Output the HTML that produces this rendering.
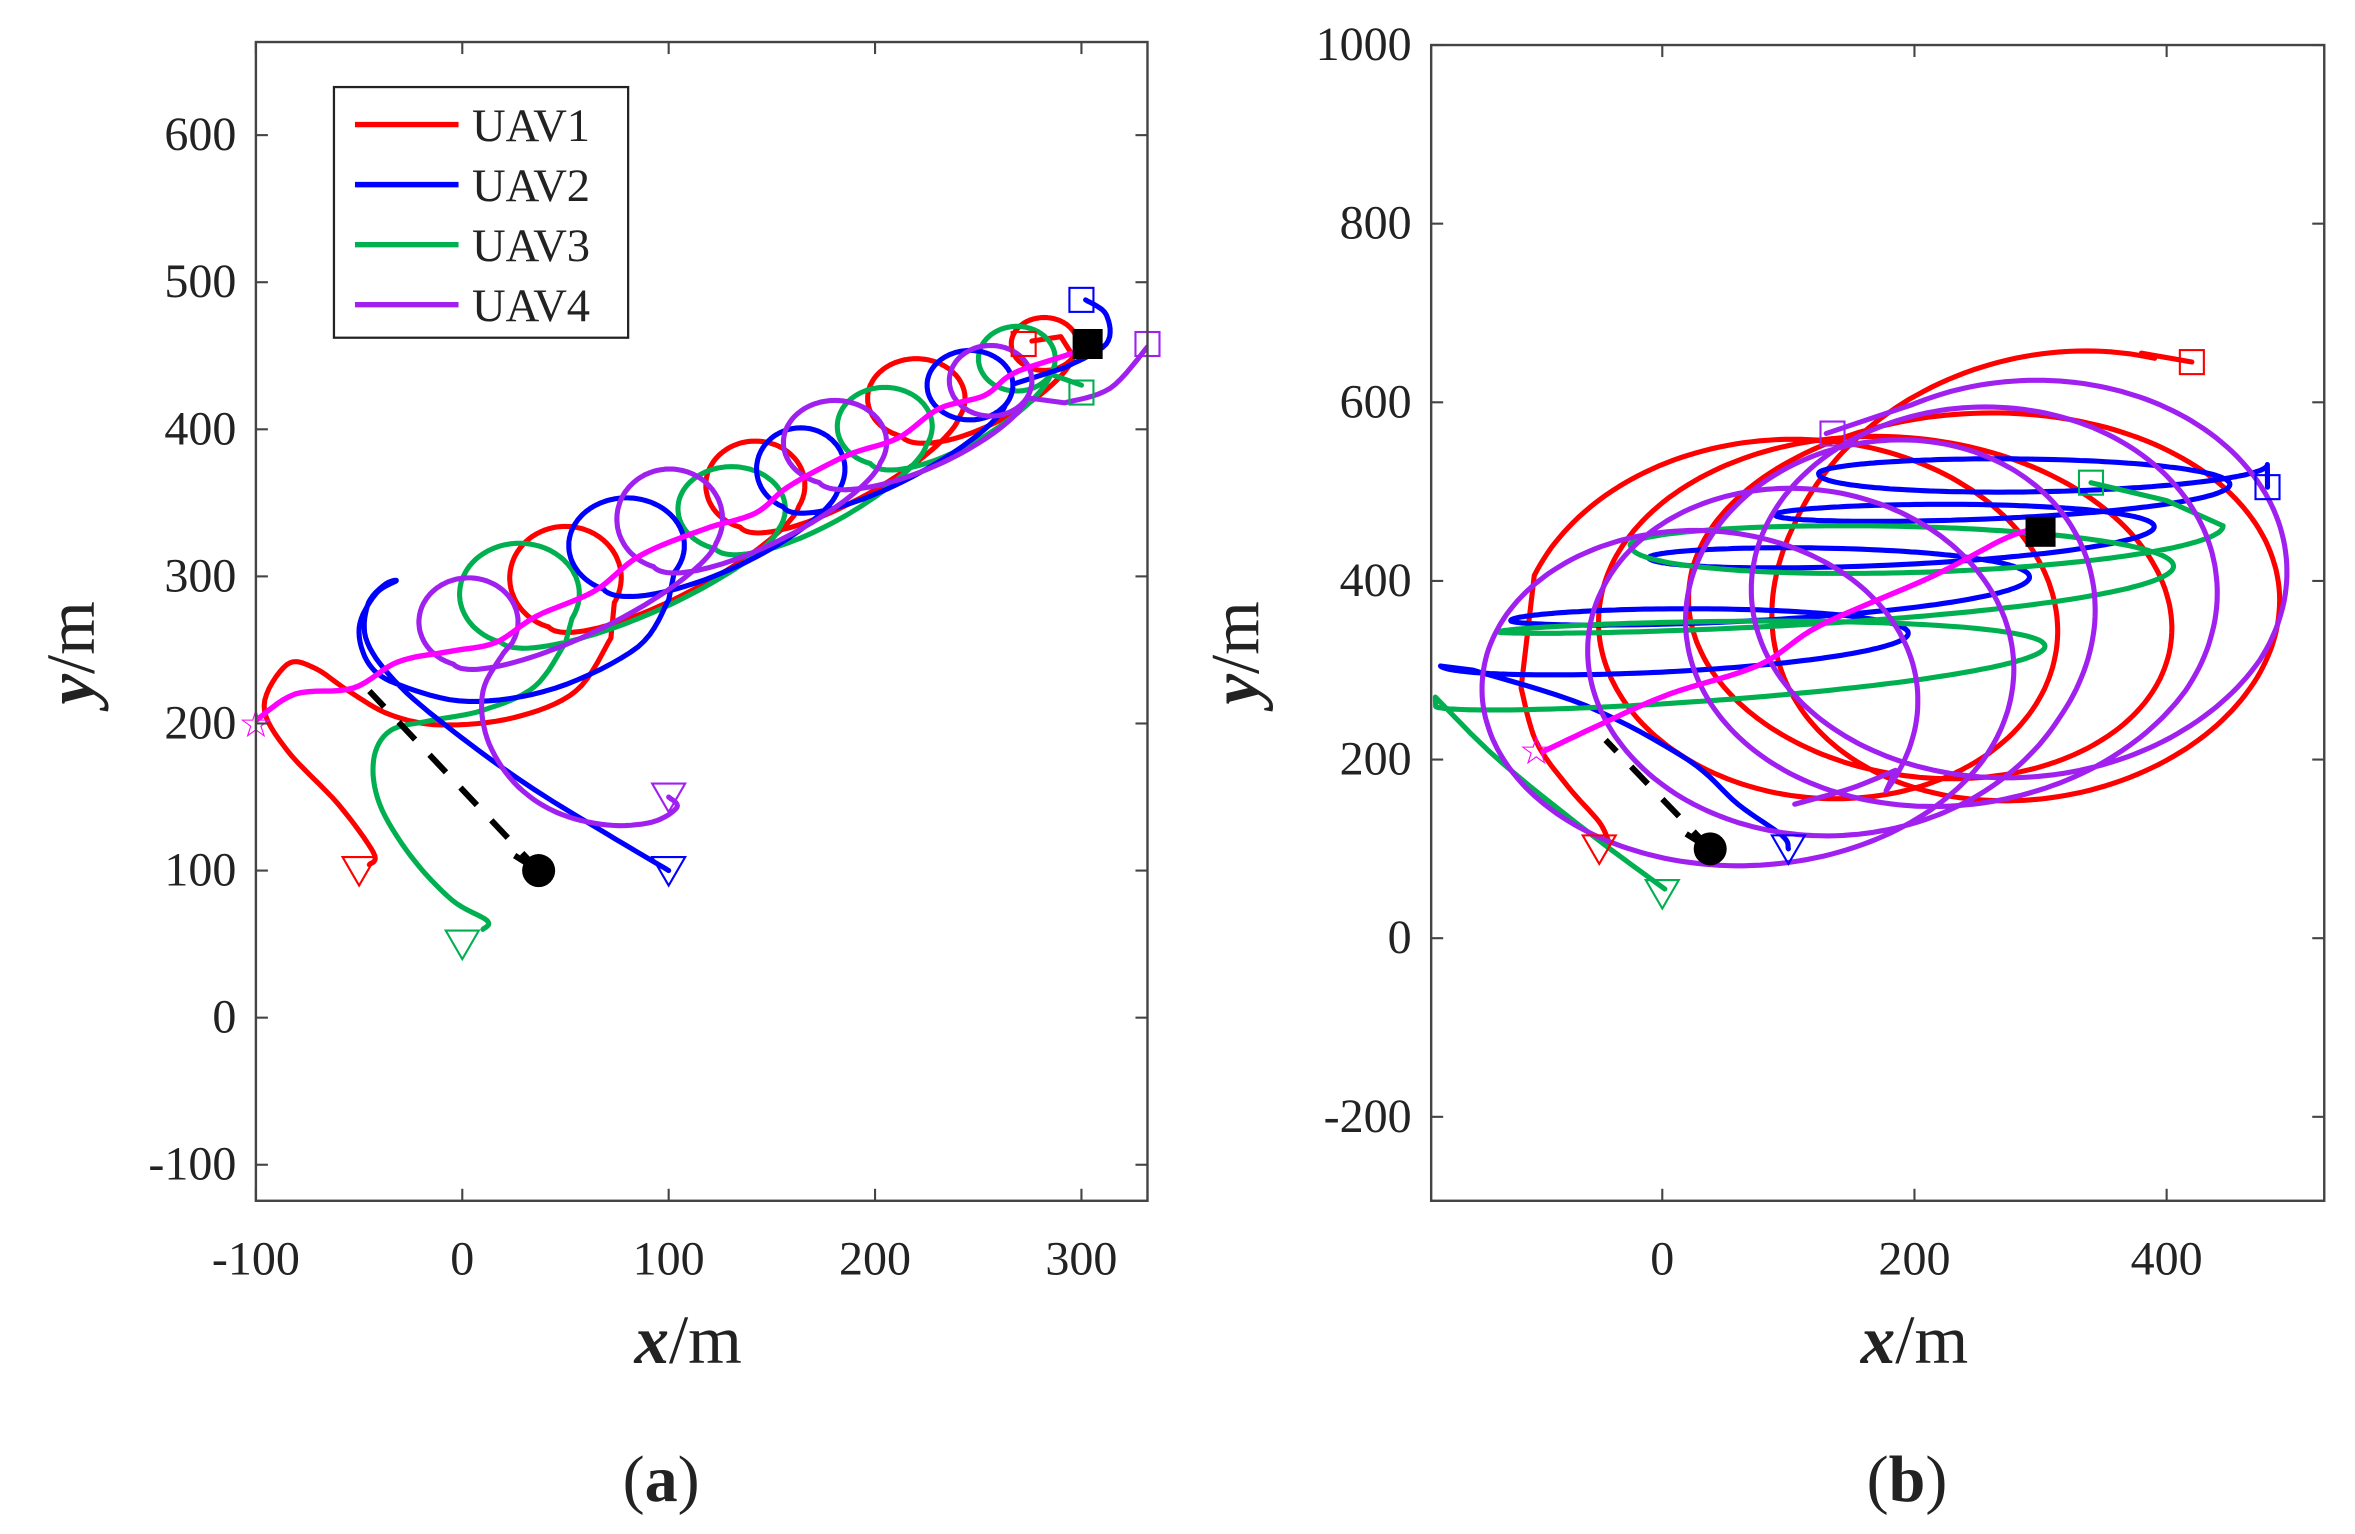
<!DOCTYPE html>
<html><head><meta charset="utf-8"><style>
html,body{margin:0;padding:0;background:#fff;}
svg{display:block;}
text{font-family:"Liberation Serif",serif;fill:#222;}
</style></head><body>
<svg id="fig" width="2355" height="1534" viewBox="0 0 1568 1022" xmlns="http://www.w3.org/2000/svg">
<g id="pa"></g>
<g id="pb"></g>
</svg>
<script>
// ---------- data: panel (a) ----------
const aXTicks = [-100, 0, 100, 200, 300];
const aYTicks = [-100, 0, 100, 200, 300, 400, 500, 600];
const aRedLead = [[-45,104],[-43,112],[-60,145],[-85,182],[-96,212],[-85,240],[-72,238],[-55,222],[-35,206],[-10,199],[25,204],[55,222],[72,258]];
const aRedLoops = [[50,299,27,35],[142,362,24,30],[220,421,23.6,27],[282,458,16,18]];
const aRedTail = [[290,463],[276,460]];
const aGreenLead = [[10,60],[12,66],[-5,80],[-25,110],[-40,145],[-43,175],[-35,195],[-15,202],[10,209],[35,225],[50,255]];
const aGreenLoops = [[27.7,288,29,34.5],[130.5,346,26,28.6],[204.7,402,23,26.5],[268.7,448,18.6,22]];
const aGreenTail = [[300,430]];
const aBlueLead = [[100,100],[70,125],[35,155],[0,190],[-30,225],[-46,255],[-46,280],[-38,294],[-32,297],[-42,288],[-50,265],[-45,240],[-30,226],[3,215],[45,224],[85,252],[100,284]];
const aBlueLoops = [[79.6,321,28,32.4],[164,373,21.4,28],[246,430,20.8,23.6]];
const aBlueTail = [[292,442],[312,458],[312,478],[302,488]];
const aPurpleLead = [[100,150],[104,143],[92,133],[70,131],[45,140],[25,160],[12,190],[10,222],[20,248]];
const aPurpleLoops = [[3,269,24,30],[100.5,339,25.6,34],[180.6,391,25,28.6],[256,433,20,24]];
const aPurpleTail = [[292,418],[314,428],[332,456]];
const aTarget = [[-100,202],[-81,220],[-53,224],[-31,242],[-6,249],[16,255],[36,273],[64,290],[86,314],[117,332],[142,343],[158,361],[186,382],[211,394],[231,414],[253,423],[267,438],[292,450],[302,455]];
const aChaser = [[37,100],[-45,222]];
const aTriangles = [[-50,100,'#ff0000'],[100,100,'#0000ff'],[0,50,'#00b050'],[100,150,'#a020f0']];
const aSquares = [[272,458,'#ff0000'],[300,488,'#0000ff'],[300,425,'#00b050'],[332,458,'#a020f0']];
const aStar = [-100,200];
const aGoal = [303,458];

// ---------- data: panel (b) ----------
const bXTicks = [0, 200, 400];
const bYTicks = [-200, 0, 200, 400, 600, 800, 1000];
const bRedLead = [[-42,106],[-50,130],[-75,170],[-100,220],[-112,280]];
const bRedLoops = [[80,350,190,210],[158,361,206,198],[238,378,216,190],[313,399,218,262]];
const bRedTail = [[380,655],[420,645]];
const bBlueLead = [[100,100],[95,115],[60,150],[20,200],[-60,260],[-150,300]];
const bBlueLoops = [[-3,310,173,25],[50,360,170,20],[175,430,185,25],[255,478,165,18],[302,525,178,25]];
const bBlueTail = [[480,505]];
const bGreenLead = [[2,55],[-60,120],[-130,200],[-180,270]];
const bGreenLoops = [[30,270,210,25],[118,355,248,20],[210,450,235,40]];
const bGreenTail = [[400,490],[340,510]];
const bPurpleLead = [[105,150],[150,168],[185,188]];
const bPurpleLoops = [[6.6,249,190,195],[81,285,193,198],[158,334,176,214],[241,367,194,214],[292,405,203,220]];
const bPurpleTail = [[130,565]];
const bTarget = [[-96,208],[-48,240],[5,273],[77,306],[125,350],[214,405],[274,449],[304,460]];
const bChaser = [[38,100],[-45,222]];
const bTriangles = [[-50,100,'#ff0000'],[100,100,'#0000ff'],[0,50,'#00b050']];
const bSquares = [[420,645,'#ff0000'],[480,505,'#0000ff'],[340,510,'#00b050'],[135,565,'#a020f0']];
const bStar = [-100,210];
const bGoal = [300,455];

const NS = 'http://www.w3.org/2000/svg';
function mk(parent, tag, attrs, name, txt){
  const e = document.createElementNS(NS, tag);
  for (const k in attrs) e.setAttribute(k, attrs[k]);
  
  
  if (txt !== undefined) e.textContent = txt;
  parent.appendChild(e);
  return e;
}
function catmull(pts){
  if (pts.length < 3) return pts.slice();
  const out = [];
  for (let i=0;i<pts.length-1;i++){
    const p0=pts[Math.max(0,i-1)],p1=pts[i],p2=pts[i+1],p3=pts[Math.min(pts.length-1,i+2)];
    for (let k=0;k<8;k++){
      const t=k/8,t2=t*t,t3=t2*t;
      out.push([0.5*((2*p1[0])+(-p0[0]+p2[0])*t+(2*p0[0]-5*p1[0]+4*p2[0]-p3[0])*t2+(-p0[0]+3*p1[0]-3*p2[0]+p3[0])*t3),
                0.5*((2*p1[1])+(-p0[1]+p2[1])*t+(2*p0[1]-5*p1[1]+4*p2[1]-p3[1])*t2+(-p0[1]+3*p1[1]-3*p2[1]+p3[1])*t3)]);
    }
  }
  out.push(pts[pts.length-1]);
  return out;
}
function loopPts(loops, th0, dir, turns, tilt, ease){
  const N=200, out=[], n=loops.length, ct=Math.cos(tilt), st=Math.sin(tilt);
  for (let s=0;s<=Math.round(turns*N);s++){
    const u=s/N, i=Math.floor(u), tr=u-i;
    let t = tr, sag = 0;
    if (ease){ // complete the loop, then sweep to the next one along a lower arc
      const q = Math.max(0,(tr-0.78)/0.22);
      t = q*q*(3-2*q);
      if (i < n-1) sag = 14*Math.sin(Math.PI*q);
    }
    const a=loops[Math.min(i,n-1)], b=loops[Math.min(i+1,n-1)];
    const cx=a[0]+(b[0]-a[0])*t, cy=a[1]+(b[1]-a[1])*t - sag, rx=a[2]+(b[2]-a[2])*t, ry=a[3]+(b[3]-a[3])*t;
    const th=th0+dir*2*Math.PI*u, lx=rx*Math.cos(th), ly=ry*Math.sin(th);
    out.push([cx+lx*ct-ly*st, cy+lx*st+ly*ct]);
  }
  return out;
}
function panel(g, cfg){
  const X = v => cfg.x0 + (v-cfg.xmin)/(cfg.xmax-cfg.xmin)*(cfg.x1-cfg.x0);
  const Y = v => cfg.y1 - (v-cfg.ymin)/(cfg.ymax-cfg.ymin)*(cfg.y1-cfg.y0);
  const clipId = 'clip'+cfg.id;
  const defs = mk(g,'defs',{},'defs');
  const cp = mk(defs,'clipPath',{id:clipId},'clip');
  mk(cp,'rect',{x:cfg.x0,y:cfg.y0,width:cfg.x1-cfg.x0,height:cfg.y1-cfg.y0},'clip-rect');
  const lines = mk(g,'g',{'clip-path':'url(#'+clipId+')'},'trajectories');
  const toD = pts => pts.map((p,i)=>(i?'L':'M')+X(p[0]).toFixed(1)+' '+Y(p[1]).toFixed(1)).join('');
  cfg.series.forEach(s=>{
    const pts = catmull(s.lead).concat(loopPts(s.loops,s.th0,s.dir,s.turns,s.tilt,cfg.ease)).concat(catmull(s.tail));
    mk(lines,'path',{d:toD(pts),fill:'none',stroke:s.color,'stroke-width':3.4,'stroke-linejoin':'round','stroke-linecap':'round'},s.name);
  });
  mk(lines,'path',{d:toD(catmull(cfg.target)),fill:'none',stroke:'#ff00ff','stroke-width':3.6,'stroke-linejoin':'round'},'target-path');
  mk(lines,'path',{d:toD(cfg.chaser),fill:'none',stroke:'#000','stroke-width':4,'stroke-dasharray':'16 14'},'pursuer-path');
  cfg.tris.forEach(t=>{
    const x=X(t[0]), y=Y(t[1]);
    mk(g,'path',{d:`M${x-11} ${y-9}L${x+11} ${y-9}L${x} ${y+10}Z`,fill:'none',stroke:t[2],'stroke-width':1.4},'start-triangle');
  });
  cfg.sqs.forEach(t=>{
    const x=X(t[0]), y=Y(t[1]);
    mk(g,'rect',{x:x-8,y:y-8,width:16,height:16,fill:'none',stroke:t[2],'stroke-width':1.4},'end-square');
  });
  { const x=X(cfg.star[0]), y=Y(cfg.star[1]);
    mk(g,'text',{x:x,y:y+9,'text-anchor':'middle','font-size':26,style:'fill:#ff00ff'},'target-start-star','☆'); }
  { const x=X(cfg.goal[0]), y=Y(cfg.goal[1]);
    mk(g,'rect',{x:x-10,y:y-10,width:20,height:20,fill:'#000'},'target-goal-square'); }
  { const x=X(cfg.chaser[0][0]), y=Y(cfg.chaser[0][1]);
    mk(g,'line',{x1:x-16,y1:y-10,x2:x,y2:y,stroke:'#000','stroke-width':4},'pursuer-tail');
    mk(g,'circle',{cx:x,cy:y,r:11,fill:'#000'},'pursuer-marker'); }
  mk(g,'rect',{x:cfg.x0,y:cfg.y0,width:cfg.x1-cfg.x0,height:cfg.y1-cfg.y0,fill:'none',stroke:'#444','stroke-width':1.6},'axes-box');
  cfg.xt.forEach(v=>{
    const x=X(v);
    mk(g,'line',{x1:x,y1:cfg.y1,x2:x,y2:cfg.y1-8,stroke:'#444','stroke-width':1.4},'x-tick');
    mk(g,'line',{x1:x,y1:cfg.y0,x2:x,y2:cfg.y0+8,stroke:'#444','stroke-width':1.4},'x-tick-top');
    mk(g,'text',{x:x,y:cfg.y1+49,'text-anchor':'middle','font-size':32},'x-tick-label',String(v));
  });
  cfg.yt.forEach(v=>{
    const y=Y(v);
    mk(g,'line',{x1:cfg.x0,y1:y,x2:cfg.x0+8,y2:y,stroke:'#444','stroke-width':1.4},'y-tick');
    mk(g,'line',{x1:cfg.x1,y1:y,x2:cfg.x1-8,y2:y,stroke:'#444','stroke-width':1.4},'y-tick-right');
    mk(g,'text',{x:cfg.x0-13,y:y+10,'text-anchor':'end','font-size':32},'y-tick-label',String(v));
  });
  const xt = mk(g,'text',{x:cfg.xlab[0],y:cfg.xlab[1],'text-anchor':'middle','font-size':46},'x-axis-title');
  mk(xt,'tspan',{'font-weight':'bold','font-style':'italic'},'x-symbol','x');
  mk(xt,'tspan',{},'x-unit','/m');
  const yt = mk(g,'text',{x:0,y:0,'text-anchor':'middle','font-size':46,transform:`translate(${cfg.ylab[0]},${cfg.ylab[1]}) rotate(-90)`},'y-axis-title');
  mk(yt,'tspan',{'font-weight':'bold','font-style':'italic'},'y-symbol','y');
  mk(yt,'tspan',{},'y-unit','/m');
  const cap = mk(g,'text',{x:cfg.cap[0],y:cfg.cap[1],'text-anchor':'middle','font-size':44},'panel-caption');
  mk(cap,'tspan',{},'caption-open','(');
  mk(cap,'tspan',{'font-weight':'bold'},'caption-letter',cfg.letter);
  mk(cap,'tspan',{},'caption-close',')');
}

panel(document.getElementById('pa'),{
  id:'a', ease:true, x0:170,x1:764,y0:28,y1:800, xmin:-100,xmax:332,ymin:-124.5,ymax:663.3,
  xt:aXTicks, yt:aYTicks, xlab:[458,908], ylab:[62,435], cap:[440,1000], letter:'a',
  series:[
    {name:'uav1-trajectory',color:'#ff0000',lead:aRedLead,loops:aRedLoops,tail:aRedTail,th0:-0.5,dir:1,turns:4,tilt:0},
    {name:'uav3-trajectory',color:'#00b050',lead:aGreenLead,loops:aGreenLoops,tail:aGreenTail,th0:-0.5,dir:1,turns:4,tilt:0},
    {name:'uav2-trajectory',color:'#0000ff',lead:aBlueLead,loops:aBlueLoops,tail:aBlueTail,th0:-0.6,dir:1,turns:3.1,tilt:0},
    {name:'uav4-trajectory',color:'#a020f0',lead:aPurpleLead,loops:aPurpleLoops,tail:aPurpleTail,th0:-0.5,dir:1,turns:4,tilt:0}
  ],
  target:aTarget, chaser:aChaser, tris:aTriangles, sqs:aSquares, star:aStar, goal:aGoal
});
panel(document.getElementById('pb'),{
  id:'b', ease:false, x0:953,x1:1548,y0:30,y1:800, xmin:-183.3,xmax:525,ymin:-294,ymax:1000,
  xt:bXTicks, yt:bYTicks, xlab:[1275,908], ylab:[838,435], cap:[1270,1000], letter:'b',
  series:[
    {name:'uav1-trajectory',color:'#ff0000',lead:bRedLead,loops:bRedLoops,tail:bRedTail,th0:Math.PI,dir:-1,turns:3.25,tilt:-0.3},
    {name:'uav2-trajectory',color:'#0000ff',lead:bBlueLead,loops:bBlueLoops,tail:bBlueTail,th0:Math.PI,dir:1,turns:4.5,tilt:0.03},
    {name:'uav3-trajectory',color:'#00b050',lead:bGreenLead,loops:bGreenLoops,tail:bGreenTail,th0:Math.PI,dir:1,turns:2.5,tilt:0.05},
    {name:'uav4-trajectory',color:'#a020f0',lead:bPurpleLead,loops:bPurpleLoops,tail:bPurpleTail,th0:-0.3,dir:1,turns:4.4,tilt:-0.15}
  ],
  target:bTarget, chaser:bChaser, tris:bTriangles, sqs:bSquares, star:bStar, goal:bGoal
});

const legendNames = ['UAV1','UAV2','UAV3','UAV4'];
const legendColors = ['#ff0000','#0000ff','#00b050','#a020f0'];
const pa = document.getElementById('pa');
const lg = mk(pa,'g',{},'legend');
mk(lg,'rect',{x:222,y:58,width:196,height:167,fill:'#fff',stroke:'#222','stroke-width':1.5},'legend-box');
legendNames.forEach((n,i)=>{
  const y = 83 + i*40;
  const e = mk(lg,'g',{},'legend-entry');
  mk(e,'line',{x1:236,y1:y,x2:305,y2:y,stroke:legendColors[i],'stroke-width':3.6},'legend-swatch');
  mk(e,'text',{x:314,y:y+11,'font-size':31},'legend-label',n);
});
</script>
</body></html>
